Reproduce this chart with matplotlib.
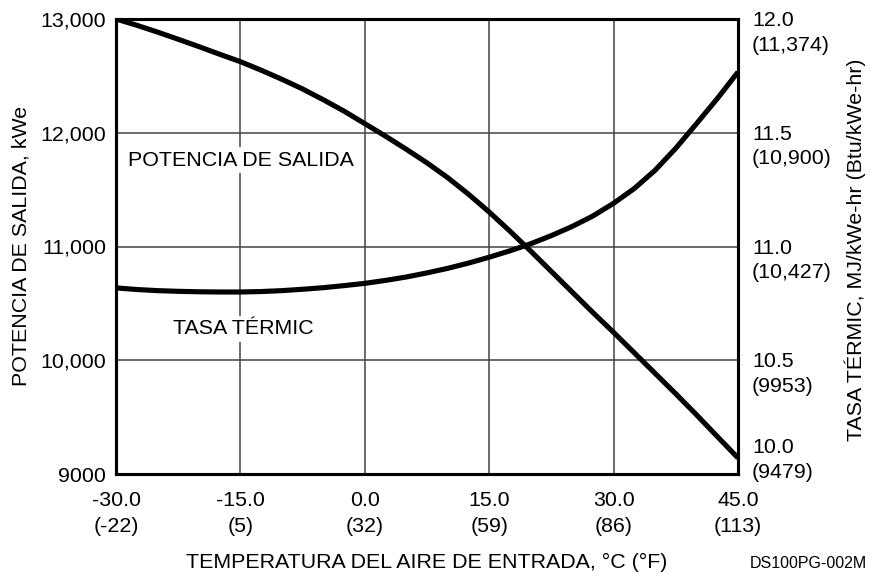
import numpy as np
import matplotlib
matplotlib.use("Agg")
import matplotlib.pyplot as plt
import matplotlib.transforms as mtransforms

plt.rcParams['font.family'] = ['Liberation Sans', 'DejaVu Sans']

# Data
temp_c = [-30.0, -27.5, -25.0, -22.5, -20.0, -17.5, -15.0, -12.5, -10.0, -7.5, -5.0, -2.5,
          0.0, 2.5, 5.0, 7.5, 10.0, 12.5, 15.0, 17.5, 20.0, 22.5, 25.0, 27.5, 30.0,
          32.5, 35.0, 37.5, 40.0, 42.5, 45.0]
power_kwe = [13000, 12945, 12885, 12822, 12757, 12690, 12625, 12550, 12470, 12385, 12290, 12190,
             12080, 11970, 11855, 11735, 11605, 11460, 11303, 11135, 10960, 10780, 10600, 10420, 10245,
             10065, 9885, 9705, 9520, 9330, 9141]
heat_rate = [10.818, 10.811, 10.806, 10.803, 10.801, 10.800, 10.800, 10.802, 10.806, 10.812, 10.819, 10.828,
             10.838, 10.851, 10.866, 10.884, 10.904, 10.927, 10.953, 10.981, 11.012, 11.048, 11.088, 11.134, 11.190,
             11.255, 11.335, 11.432, 11.540, 11.650, 11.767]

x_ticks = [-30.0, -15.0, 0.0, 15.0, 30.0, 45.0]
x_tick_labels = ["-30.0\n(-22)", "-15.0\n(5)", "0.0\n(32)", "15.0\n(59)", "30.0\n(86)", "45.0\n(113)"]
left_ticks = [9000, 10000, 11000, 12000, 13000]
left_tick_labels = ["9000", "10,000", "11,000", "12,000", "13,000"]
right_ticks = [10.0, 10.5, 11.0, 11.5, 12.0]
right_tick_labels = ["10.0\n(9479)", "10.5\n(9953)", "11.0\n(10,427)", "11.5\n(10,900)", "12.0\n(11,374)"]

FS = 15.4
W, H = 877, 573
fig = plt.figure(figsize=(W / 100, H / 100), dpi=100)
ax = fig.add_axes([116 / W, 1 - 474 / H, (738 - 116) / W, (474 - 19) / H])
ax.set_xlim(-30, 45)
ax.set_ylim(9000, 13000)
ax2 = ax.twinx()
ax2.set_ylim(10.0, 12.0)

ax.grid(True, color='#444444', linewidth=1.1)
ax.set_axisbelow(True)
ax.tick_params(axis='both', length=0)
ax.tick_params(axis='x', pad=12.5)
ax.tick_params(axis='y', pad=7)
ax2.tick_params(axis='y', length=0, pad=10)

ax.set_xticks(x_ticks)
ax.set_xticklabels(x_tick_labels, fontsize=FS, linespacing=1.45)
ax.set_yticks(left_ticks)
ax.set_yticklabels(left_tick_labels, fontsize=FS)
ax2.set_yticks(right_ticks)
ax2.set_yticklabels(right_tick_labels, fontsize=FS, linespacing=1.38)
for i, lab in enumerate(ax2.get_yticklabels()):
    up = 8 if i > 0 else 36
    lab.set_verticalalignment('top')
    lab.set_transform(lab.get_transform() +
                      mtransforms.ScaledTranslation(0, up / 100, fig.dpi_scale_trans))

for a in (ax, ax2):
    for s in a.spines.values():
        s.set_linewidth(2.2)
        s.set_color('black')

ax.plot(temp_c, power_kwe, color='black', linewidth=3.7, solid_capstyle='butt', zorder=3)
ax2.plot(temp_c, heat_rate, color='black', linewidth=3.7, solid_capstyle='butt', zorder=3)

ax.text(-28.55, 11760, "POTENCIA DE SALIDA", fontsize=FS, va='center', ha='left',
        bbox=dict(facecolor='white', edgecolor='none', pad=2.5), zorder=2)
ax.text(-23.15, 10275, "TASA TÉRMIC", fontsize=FS, va='center', ha='left',
        bbox=dict(facecolor='white', edgecolor='none', pad=2.5), zorder=2)

fig.text(21 / W, 1 - 246 / H, "POTENCIA DE SALIDA, kWe", fontsize=FS, rotation=90,
         ha='center', va='center')
fig.text(855 / W, 1 - 250 / H, "TASA TÉRMIC, MJ/kWe-hr (Btu/kWe-hr)", fontsize=FS, rotation=90,
         ha='center', va='center')
fig.text(427 / W, 1 - 562 / H, "TEMPERATURA DEL AIRE DE ENTRADA, °C (°F)", fontsize=FS,
         ha='center', va='center')
fig.text(867 / W, 1 - 563 / H, "DS100PG-002M", fontsize=11.5, ha='right', va='center')

fig.savefig("out.png", dpi=100)
